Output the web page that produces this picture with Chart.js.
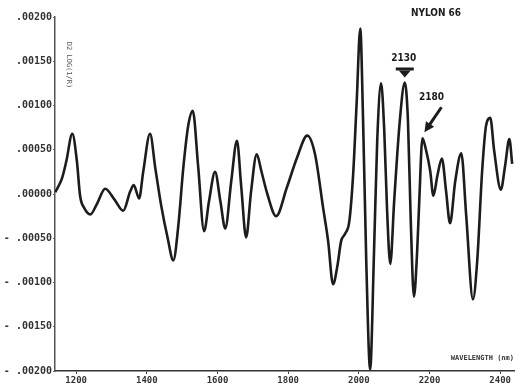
<!DOCTYPE html>
<html>
<head>
<meta charset="utf-8">
<script src="https://cdn.jsdelivr.net/npm/chart.js@4/dist/chart.umd.min.js"></script>
<style>
  html, body { margin: 0; padding: 0; background: #fff; }
  #wrap { width: 515px; height: 387px; }
</style>
</head>
<body>
<div id="wrap"><canvas id="c" width="515" height="387"></canvas></div>
<script>
// Second-derivative NIR spectrum of nylon 66
const wavelengths = [
  1141, 1160, 1172, 1189, 1202, 1211, 1223, 1240, 1259, 1282,
  1308, 1333, 1353, 1363, 1378, 1390, 1409, 1424, 1441, 1458,
  1475, 1489, 1503, 1517, 1530, 1545, 1562, 1576, 1593, 1608,
  1622, 1639, 1655, 1667, 1681, 1695, 1711, 1724, 1741, 1766,
  1796, 1825, 1854, 1876, 1899, 1913, 1927, 1939, 1950, 1961,
  1973, 1984, 1994, 2004, 2012, 2021, 2032, 2043, 2052, 2063,
  2072, 2080, 2089, 2100, 2116, 2130, 2139, 2147, 2156, 2165,
  2171, 2180, 2190, 2202, 2211, 2222, 2235, 2247, 2258, 2273,
  2290, 2304, 2323, 2335, 2349, 2360, 2372, 2383, 2402, 2414,
  2426, 2434
];
const secondDerivative = [
  0.00002, 0.00018, 0.00037, 0.00068, 0.00037, -0.00002, -0.00016, -0.00023, -0.00011, 0.00006,
  -0.00006, -0.00019, 0.00003, 0.00010, -0.00005, 0.00026, 0.00068, 0.00029, -0.00014, -0.00048,
  -0.00075, -0.00036, 0.00029, 0.00077, 0.00094, 0.00032, -0.00042, -0.00008, 0.00025, -0.00008,
  -0.00039, 0.00015, 0.00060, 0.00009, -0.00049, 0.00003, 0.00045, 0.00026, 0.00000, -0.00025,
  0.00007, 0.00041, 0.00066, 0.00045, -0.00016, -0.00053, -0.00102, -0.00082, -0.00053, -0.00045,
  -0.00031, 0.00023, 0.00105, 0.00187, 0.00083, -0.00076, -0.00198, -0.00065, 0.00060, 0.00125,
  0.00071, -0.00019, -0.00079, -0.00008, 0.00083, 0.00126, 0.00083, -0.00031, -0.00116, -0.00065,
  -0.00008, 0.00063, 0.00050, 0.00026, -0.00002, 0.00020, 0.00040, 0.00003, -0.00033, 0.00015,
  0.00046, -0.00025, -0.00119, -0.00076, 0.00026, 0.00077, 0.00086, 0.00049, 0.00005, 0.00032,
  0.00062, 0.00034
];
const xTicks = [1200, 1400, 1600, 1800, 2000, 2200, 2400];
const yTicks = [-0.002, -0.0015, -0.001, -0.0005, 0, 0.0005, 0.001, 0.0015, 0.002];
const bandLabels = [2130, 2180];
const titleText = 'NYLON 66';
const xTitle = 'WAVELENGTH (nm)';
const yTitle = 'D2 LOG(1/R)';

const points = wavelengths.map((w, i) => ({ x: w, y: secondDerivative[i] }));

function fmtY(v) {
  const s = Math.abs(v).toFixed(5).replace(/^0/, '');
  return v < 0 ? '- ' + s : s;
}
function valueAt(w) {
  const i = wavelengths.indexOf(w);
  return secondDerivative[i];
}

const ink = '#1c1c1c';

const decorations = {
  id: 'decorations',
  afterDatasetsDraw(chart) {
    const { ctx, scales: { x, y } } = chart;
    ctx.save();
    ctx.fillStyle = ink;
    ctx.strokeStyle = ink;
    ctx.textAlign = 'center';
    ctx.textBaseline = 'middle';

    // title
    ctx.font = 'bold 10px "DejaVu Sans Condensed", "DejaVu Sans", sans-serif';
    ctx.fillText(titleText, 436, 13);

    // 2130 band: label with a downward arrowhead over the peak
    {
      const px = x.getPixelForValue(bandLabels[0]);
      const py = y.getPixelForValue(valueAt(bandLabels[0]));
      ctx.font = 'bold 10px "DejaVu Sans Condensed", "DejaVu Sans", sans-serif';
      ctx.fillText(String(bandLabels[0]), px - 1, py - 24);
      ctx.fillRect(px - 9, py - 15, 18, 3);
      ctx.beginPath();
      ctx.moveTo(px - 6, py - 12);
      ctx.lineTo(px + 6, py - 12);
      ctx.lineTo(px, py - 5);
      ctx.closePath();
      ctx.fill();
    }

    // 2180 band: label with a diagonal arrow pointing to the peak
    {
      const px = x.getPixelForValue(bandLabels[1]);
      const py = y.getPixelForValue(valueAt(bandLabels[1]));
      ctx.fillText(String(bandLabels[1]), px + 9, py - 41);
      const tx = px + 2, ty = py - 6;
      const sx = px + 19, sy = py - 31;
      const ang = Math.atan2(ty - sy, tx - sx);
      ctx.lineWidth = 3;
      ctx.beginPath();
      ctx.moveTo(sx, sy);
      ctx.lineTo(tx - 5 * Math.cos(ang), ty - 5 * Math.sin(ang));
      ctx.stroke();
      ctx.beginPath();
      ctx.moveTo(tx, ty);
      ctx.lineTo(tx - 10 * Math.cos(ang) + 5 * Math.sin(ang), ty - 10 * Math.sin(ang) - 5 * Math.cos(ang));
      ctx.lineTo(tx - 10 * Math.cos(ang) - 5 * Math.sin(ang), ty - 10 * Math.sin(ang) + 5 * Math.cos(ang));
      ctx.closePath();
      ctx.fill();
    }

    // axis titles
    ctx.fillStyle = '#333';
    ctx.font = 'bold 7px "DejaVu Sans Mono", monospace';
    ctx.textAlign = 'right';
    ctx.fillText(xTitle, 514, 358);

    ctx.translate(69, 65);
    ctx.rotate(Math.PI / 2);
    ctx.textAlign = 'center';
    ctx.fillStyle = '#555';
    ctx.font = '7px "DejaVu Sans Mono", monospace';
    ctx.fillText(yTitle, 0, 0);
    ctx.restore();
  }
};

const whiteBg = {
  id: 'whiteBg',
  beforeDraw(chart) {
    const { ctx } = chart;
    ctx.save();
    ctx.fillStyle = '#fff';
    ctx.fillRect(0, 0, chart.width, chart.height);
    ctx.restore();
  }
};

new Chart(document.getElementById('c'), {
  type: 'line',
  data: {
    datasets: [{
      data: points,
      borderColor: ink,
      borderWidth: 2.6,
      pointRadius: 0,
      cubicInterpolationMode: 'monotone',
      fill: false
    }]
  },
  options: {
    responsive: false,
    animation: false,
    events: [],
    layout: { padding: { top: 17, right: 0, bottom: 0, left: 0 } },
    plugins: { legend: { display: false }, tooltip: { enabled: false }, title: { display: false } },
    scales: {
      x: {
        type: 'linear',
        min: 1140,
        max: 2442,
        afterBuildTicks: s => { s.ticks = xTicks.map(v => ({ value: v })); },
        afterFit: s => { s.height = 16; },
        grid: { display: true, drawOnChartArea: false, tickLength: 3, color: '#444', lineWidth: 1 },
        border: { display: true, color: '#333', width: 1.5, dash: [9, 2] },
        ticks: {
          padding: 1,
          maxRotation: 0,
          autoSkip: false,
          color: '#333',
          font: { family: '"DejaVu Sans Mono", monospace', size: 9, weight: 'bold' },
          callback: v => String(v)
        }
      },
      y: {
        type: 'linear',
        min: -0.002,
        max: 0.002,
        afterBuildTicks: s => { s.ticks = yTicks.map(v => ({ value: v })); },
        afterFit: s => { s.width = 55; },
        grid: { display: true, drawOnChartArea: false, tickLength: 2, color: '#666', lineWidth: 1 },
        border: { display: true, color: '#555', width: 1.5, dash: [1, 4] },
        ticks: {
          padding: 1,
          autoSkip: false,
          color: '#333',
          font: { family: '"DejaVu Sans Mono", monospace', size: 10, weight: 'bold' },
          callback: v => fmtY(v)
        }
      }
    }
  },
  plugins: [whiteBg, decorations]
});
</script>
</body>
</html>
